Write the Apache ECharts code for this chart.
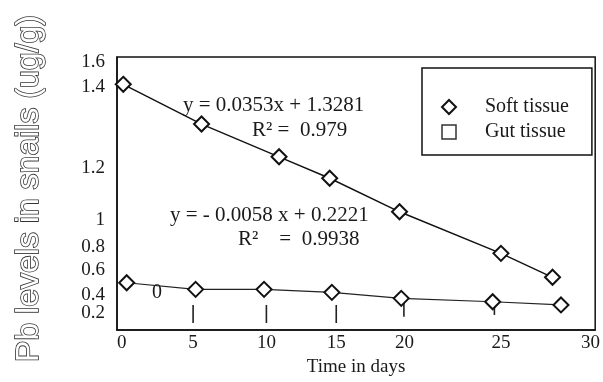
<!DOCTYPE html>
<html>
<head>
<meta charset="utf-8">
<script src="https://cdn.jsdelivr.net/npm/echarts@6/dist/echarts.min.js"></script>
<style>html,body{margin:0;padding:0;background:#fff}#c{width:603px;height:382px}</style>
</head>
<body>
<div id="c"></div>
<script>
// Tick labels and where they sit on the (scanned, uneven) axes
const xTickLabels = ['0', '5', '10', '15', '20', '25', '30'];
const xTickPos = [0, 4.57, 9.26, 13.73, 18.10, 24.27, 30];
const yTickLabels = ['1.6', '1.4', '1.2', '1', '0.8', '0.6', '0.4', '0.2'];
const yTickPos = [1.535, 1.399, 0.969, 0.694, 0.552, 0.428, 0.296, 0.199];

// Series
const softDays = [0.10, 5.11, 10.07, 13.31, 17.78, 24.27, 27.57];
const softLevels = [1.415, 1.204, 1.030, 0.916, 0.738, 0.517, 0.390];
const gutDays = [0.32, 4.73, 9.11, 13.45, 17.89, 23.74, 28.11];
const gutLevels = [0.361, 0.326, 0.326, 0.310, 0.278, 0.260, 0.243];

// Short vertical bars under the gut series
const errDays = [4.57, 9.26, 13.73, 18.06, 23.85];
const errTop = [0.243, 0.243, 0.243, 0.280, 0.260];
const errBottom = [0.147, 0.147, 0.147, 0.181, 0.190];

const serif = 'Liberation Serif';
const ink = '#1a1a1a';

function nearestLabel(v, pos, labels) {
  let best = 0, bd = Infinity;
  pos.forEach((p, i) => { const d = Math.abs(p - v); if (d < bd) { bd = d; best = i; } });
  return labels[best];
}

const yLabelStyle = {
  margin: 12, hideOverlap: false,
  fontFamily: serif, fontSize: 19, color: ink,
  formatter: v => nearestLabel(v, yTickPos, yTickLabels)
};

const chart = echarts.init(document.getElementById('c'), null, { renderer: 'canvas' });
chart.setOption({
  animation: false,
  backgroundColor: '#fff',
  grid: { left: 117, top: 57, width: 479, height: 273, show: true, borderColor: '#111', borderWidth: 1.5, backgroundColor: 'transparent' },
  xAxis: {
    type: 'value', min: -0.3, max: 30.3,
    name: 'Time in days', nameLocation: 'middle', nameGap: 25,
    nameTextStyle: { fontFamily: serif, fontSize: 19, color: ink },
    axisLine: { show: true, onZero: false, lineStyle: { color: '#111', width: 1.5 } },
    axisTick: { show: false },
    splitLine: { show: false },
    axisLabel: {
      customValues: xTickPos, margin: 4, hideOverlap: false,
      fontFamily: serif, fontSize: 19, color: ink,
      formatter: v => nearestLabel(v, xTickPos, xTickLabels)
    }
  },
  yAxis: [
    {
      type: 'value', min: 0.11, max: 1.56, position: 'left',
      name: 'Pb levels in snails (ug/g)', nameLocation: 'middle', nameGap: 72, nameRotate: 90,
      nameTextStyle: { fontFamily: 'Liberation Sans', fontSize: 32, color: '#fff', textBorderColor: '#333', textBorderWidth: 1.6, padding: [0, 0, 0, 10] },
      axisLine: { show: true, onZero: false, lineStyle: { color: '#111', width: 1.5 } },
      axisTick: { show: false },
      splitLine: { show: false },
      axisLabel: Object.assign({ customValues: yTickPos.slice(0, -1) }, yLabelStyle)
    },
    {
      // second copy of the same scale, only to carry the bottom tick label
      type: 'value', min: 0.11, max: 1.56, position: 'left', offset: 0,
      axisLine: { show: false, onZero: false },
      axisTick: { show: false },
      splitLine: { show: false },
      axisLabel: Object.assign({ customValues: yTickPos.slice(-1) }, yLabelStyle)
    }
  ],
  legend: {
    orient: 'vertical', left: 422, top: 68,
    padding: [29, 23, 13, 19], itemGap: 5, itemWidth: 14, itemHeight: 14,
    borderColor: '#111', borderWidth: 1.5, backgroundColor: '#fff',
    textStyle: { fontFamily: serif, fontSize: 20, color: ink, padding: [0, 0, 0, 24] },
    data: [
      { name: 'Soft tissue', icon: 'diamond', itemStyle: { color: '#fff', borderColor: '#111', borderWidth: 2 } },
      { name: 'Gut tissue', icon: 'rect', itemStyle: { color: '#fff', borderColor: '#333', borderWidth: 1.5 } }
    ]
  },
  series: [
    {
      name: 'Soft tissue', type: 'line',
      data: softDays.map((d, i) => [d, softLevels[i]]),
      symbol: 'diamond', symbolSize: 15,
      lineStyle: { color: '#111', width: 1.4 },
      itemStyle: { color: '#fff', borderColor: '#111', borderWidth: 2 },
      z: 3
    },
    {
      name: 'Gut tissue', type: 'line',
      data: gutDays.map((d, i) => [d, gutLevels[i]]),
      symbol: 'diamond', symbolSize: 15,
      lineStyle: { color: '#222', width: 1.2 },
      itemStyle: { color: '#fff', borderColor: '#111', borderWidth: 2 },
      z: 3
    },
    {
      name: 'bars', type: 'custom',
      data: errDays.map((d, i) => [d, errTop[i], errBottom[i]]),
      renderItem: (params, api) => {
        const p1 = api.coord([api.value(0), api.value(1)]);
        const p2 = api.coord([api.value(0), api.value(2)]);
        return { type: 'line', shape: { x1: p1[0], y1: p1[1], x2: p2[0], y2: p2[1] }, style: { stroke: '#222', lineWidth: 1.6 } };
      },
      z: 2
    }
  ],
  graphic: [
    { type: 'text', left: 183, top: 95, style: { text: 'y = 0.0353x + 1.3281', font: '21px "Liberation Serif"', fill: ink } },
    { type: 'text', left: 252, top: 120, style: { text: 'R² =  0.979', font: '21px "Liberation Serif"', fill: ink } },
    { type: 'text', left: 170, top: 205, style: { text: 'y = - 0.0058 x + 0.2221', font: '21px "Liberation Serif"', fill: ink } },
    { type: 'text', left: 238, top: 229, style: { text: 'R²    =  0.9938', font: '21px "Liberation Serif"', fill: ink } },
    { type: 'text', left: 152, top: 283, style: { text: '0', font: '20px "Liberation Serif"', fill: ink } }
  ]
});
</script>
</body>
</html>
